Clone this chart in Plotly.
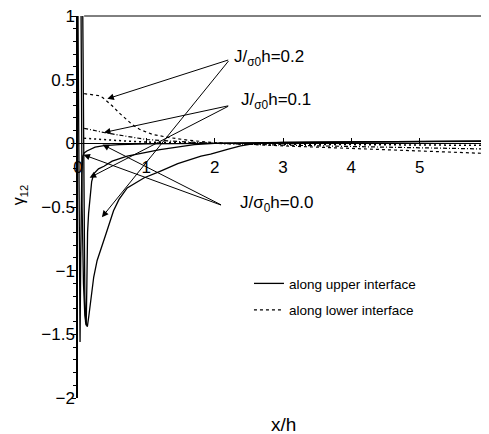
import plotly.graph_objects as go

# ---------------- data ----------------
# along upper interface (solid)
up_j00_x = [0.0, 0.005, 0.012, 0.02, 0.03, 0.04, 0.055, 0.07, 0.09, 0.13, 0.18, 0.25, 0.38, 0.6, 1.0, 1.5, 2.0, 2.5, 3.0, 4.0, 5.0, 6.0]
up_j00_y = [1.0, 0.4, -0.5, -1.2, -1.56, -0.9, -0.25, -0.1, -0.075, -0.06, -0.045, -0.03, -0.018, -0.01, -0.005, -0.002, 0.0, 0.004, 0.006, 0.01, 0.013, 0.016]

up_j01_x = [0.07, 0.075, 0.08, 0.09, 0.1, 0.11, 0.12, 0.13, 0.14, 0.155, 0.17, 0.2, 0.23, 0.3, 0.38, 0.5, 0.72, 1.0, 1.2, 1.5, 1.7, 2.0, 2.5, 3.0, 4.0, 5.0, 6.0]
up_j01_y = [1.0, 0.5, -0.2, -0.8, -1.2, -1.4, -1.43, -1.1, -0.7, -0.55, -0.44, -0.3, -0.24, -0.2, -0.18, -0.14, -0.1, -0.07, -0.05, -0.025, -0.01, 0.0, 0.005, 0.008, 0.012, 0.015, 0.018]

up_j02_x = [0.045, 0.05, 0.06, 0.08, 0.1, 0.12, 0.137, 0.16, 0.19, 0.23, 0.28, 0.35, 0.41, 0.52, 0.6, 0.72, 0.97, 1.2, 1.46, 1.8, 1.94, 2.2, 2.38, 2.6, 3.0, 4.0, 5.0, 6.0]
up_j02_y = [1.0, 0.3, -0.5, -1.1, -1.35, -1.42, -1.44, -1.35, -1.23, -1.05, -0.92, -0.8, -0.71, -0.53, -0.44, -0.35, -0.27, -0.22, -0.16, -0.1, -0.085, -0.045, -0.02, 0.0, 0.008, 0.012, 0.015, 0.018]

# along lower interface (dotted)
lo_j00_x = [0.09, 0.2, 0.4, 0.7, 1.0, 1.5, 2.0, 2.5, 3.0, 4.0, 5.0, 6.0]
lo_j00_y = [0.04, 0.035, 0.028, 0.018, 0.01, 0.004, 0.0, -0.004, -0.007, -0.01, -0.013, -0.016]

lo_j01_x = [0.09, 0.15, 0.26, 0.38, 0.5, 0.7, 1.0, 1.34, 1.7, 2.0, 2.5, 3.0, 4.0, 5.0, 6.0]
lo_j01_y = [0.118, 0.11, 0.097, 0.085, 0.074, 0.058, 0.03, 0.018, 0.008, 0.0, -0.008, -0.015, -0.025, -0.035, -0.045]

lo_j02_x = [0.09, 0.2, 0.3, 0.36, 0.43, 0.5, 0.6, 0.7, 0.8, 0.9, 1.09, 1.34, 1.6, 2.0, 2.5, 3.0, 3.5, 4.0, 5.0, 6.0]
lo_j02_y = [0.39, 0.385, 0.375, 0.36, 0.33, 0.295, 0.24, 0.19, 0.145, 0.11, 0.07, 0.045, 0.025, 0.005, -0.01, -0.02, -0.03, -0.04, -0.06, -0.08]

x_ticks = [0, 1, 2, 3, 4, 5, 6]
y_ticks = [1, 0.5, 0, -0.5, -1, -1.5, -2]
y_tick_labels = ["1", "0.5", "0", "\u22120.5", "\u22121", "\u22121.5", "\u22122"]

legend_names = ["along upper interface", "along lower interface"]
case_labels = ["J/<sub>\u03c30</sub>h=0.2", "J/<sub>\u03c30</sub>h=0.1", "J/\u03c3<sub>0</sub>h=0.0"]
# label text position, arrow tail and arrow targets (data coords) for each case
label_text_pos = [(2.26, 0.67), (2.36, 0.335), (2.335, -0.48)]
arrow_tail_pos = [(2.22, 0.658), (2.22, 0.297), (2.115, -0.489)]
arrow_targets = [
    [(0.43, 0.35), (0.35, -0.58)],
    [(0.38, 0.085), (0.17, -0.27)],
    [(0.36, -0.01), (0.08, -0.09)],
]

# ---------------- figure ----------------
FONT = "Liberation Sans, Arial, Helvetica, sans-serif"
fig = go.Figure()

solid = dict(color="black", width=1.3)
for i, (xs, ys) in enumerate([(up_j00_x, up_j00_y), (up_j01_x, up_j01_y), (up_j02_x, up_j02_y)]):
    fig.add_trace(go.Scatter(x=xs, y=ys, mode="lines", line=solid,
                             name=legend_names[0], legendgroup="up", showlegend=(i == 0)))

lo_styles = [dict(color="black", width=1.2, dash="dot"),
             dict(color="black", width=1.2, dash="4px,2px,1px,2px"),
             dict(color="black", width=1.5, dash="2px,3px")]
lo_series = [(lo_j02_x, lo_j02_y), (lo_j01_x, lo_j01_y), (lo_j00_x, lo_j00_y)]
for i, (xs, ys) in enumerate(lo_series):
    fig.add_trace(go.Scatter(x=xs, y=ys, mode="lines", line=lo_styles[i],
                             name=legend_names[1], legendgroup="lo", showlegend=(i == 0)))

annotations = []
for lab, (lx, ly), (tx0, ty0), targets in zip(case_labels, label_text_pos, arrow_tail_pos, arrow_targets):
    annotations.append(dict(x=lx, y=ly, xref="x", yref="y", text=lab, showarrow=False,
                            xanchor="left", yanchor="middle", font=dict(size=17, color="black", family=FONT)))
    for tx, ty in targets:
        annotations.append(dict(x=tx, y=ty, xref="x", yref="y", ax=tx0, ay=ty0, axref="x", ayref="y",
                                text="", showarrow=True, arrowhead=2, arrowsize=1.3, arrowwidth=1,
                                arrowcolor="black", standoff=0))

annotations.append(dict(x=0.5, y=-0.07, xref="paper", yref="paper", text="x/h", showarrow=False,
                        xanchor="center", yanchor="middle", font=dict(size=19, color="black", family=FONT)))
annotations.append(dict(x=-0.142, y=0.53, xref="paper", yref="paper", text="\u03b3<sub>12</sub>",
                        showarrow=False, textangle=-90, xanchor="center", yanchor="middle",
                        font=dict(size=16, color="black", family=FONT)))

# the page body adds an 8px offset, so the figure is sized to fit the window after it
fig.update_layout(
    width=481, height=426,
    margin=dict(l=70, r=1, t=8, b=36, pad=0, autoexpand=False),
    paper_bgcolor="white", plot_bgcolor="white",
    font=dict(family=FONT, size=16, color="black"),
    showlegend=True,
    legend=dict(x=0.417, y=0.34, xanchor="left", yanchor="top", bgcolor="rgba(0,0,0,0)",
                font=dict(size=13.5, family=FONT), traceorder="grouped", tracegroupgap=6,
                itemwidth=30),
    annotations=annotations,
    shapes=[dict(type="line", xref="paper", yref="paper", x0=0.015, x1=1, y0=1, y1=1,
                 line=dict(color="black", width=1))],
    xaxis=dict(range=[0, 6], tickvals=x_ticks, ticktext=[str(v) for v in x_ticks],
               anchor="free", position=2 / 3, showline=True, linecolor="black", linewidth=1,
               ticks="inside", ticklen=5, tickcolor="black", ticklabelstandoff=8,
               showgrid=False, zeroline=False, tickfont=dict(size=17), automargin=False,
               ticklabeloverflow="allow"),
    yaxis=dict(range=[-2, 1], tickvals=y_ticks, ticktext=y_tick_labels,
               showline=True, linecolor="black", linewidth=1.5,
               ticks="outside", ticklen=5, tickcolor="black",
               minor=dict(dtick=0.1, ticks="outside", ticklen=3, tickcolor="black", showgrid=False),
               showgrid=False, zeroline=False, tickfont=dict(size=17), ticklabelstandoff=-7,
               automargin=False, ticklabeloverflow="allow"),
)

fig.write_html("out.html")
